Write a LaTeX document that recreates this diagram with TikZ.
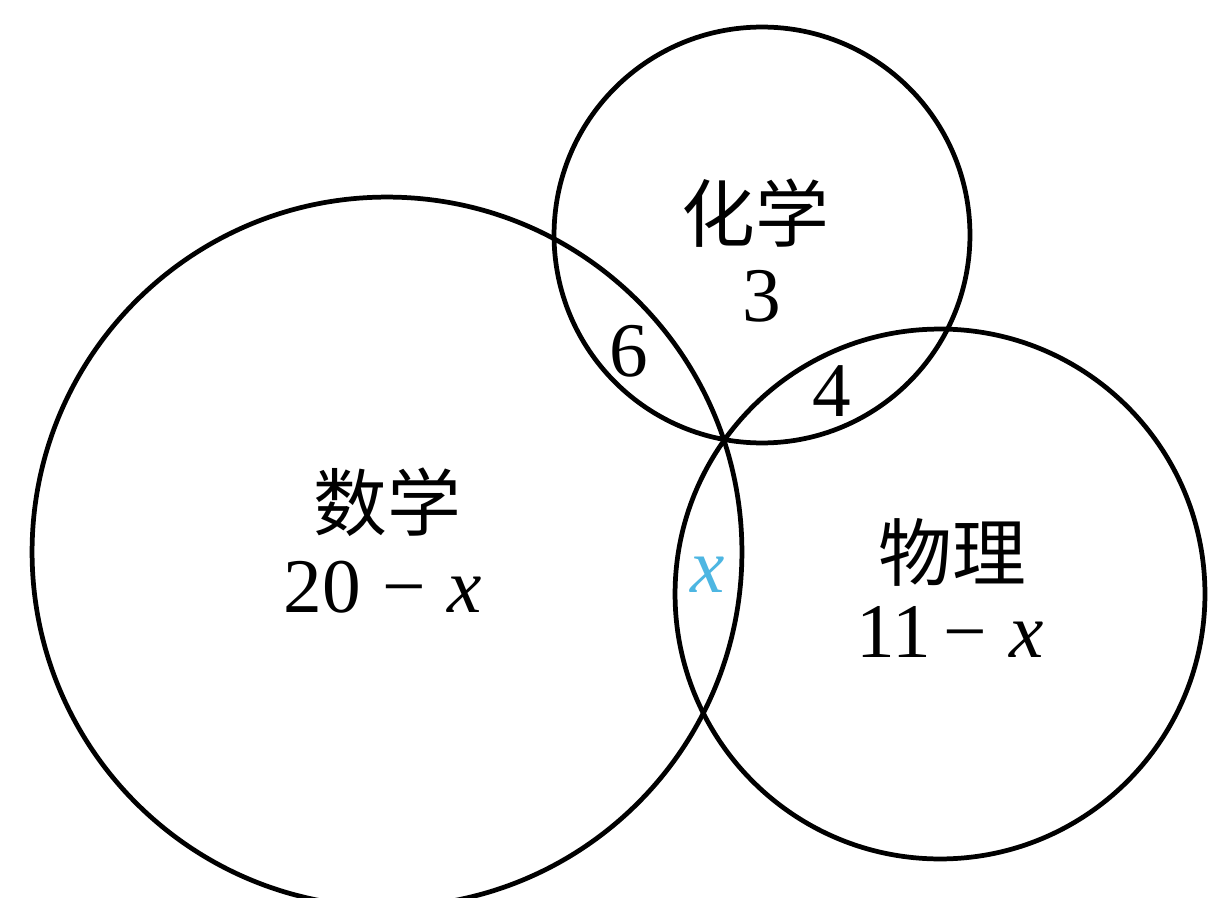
\documentclass[tikz,border=0pt]{standalone}
\usepackage{fontspec}
\setmainfont{Liberation Serif}
\newfontfamily\cjk{Noto Sans CJK SC}
\definecolor{xcyan}{HTML}{4DB6E2}
\begin{document}
\begin{tikzpicture}[x=0.02cm,y=-0.02cm,
  ring/.style={draw=black,line width=2.7pt,circle,inner sep=0pt},
  lab/.style={inner sep=0pt,font=\fontsize{42}{48}\selectfont\cjk},
  num/.style={inner sep=0pt,anchor=base,font=\fontsize{44}{48}\selectfont}]
\useasboundingbox (0,0) rectangle (1209,898);
\node[ring,minimum size=14.2cm] (math) at (387,552) {};
\node[ring,minimum size=8.32cm] (chem) at (762,235) {};
\node[ring,minimum size=10.6cm] (phys) at (940,594) {};
\node[lab] (mathlab) at (387,502) {数学};
\node[num] (mathnum) at (383,612) {20\;−\;\textit{x}};
\node[lab] (chemlab) at (755,213) {化学};
\node[num] (chemnum) at (762,321) {3};
\node[lab] (physlab) at (952,552) {物理};
\node[num] (physnum) at (950,657) {11\,−\;\textit{x}};
\node[num] (mc) at (629,376) {6};
\node[num] (cp) at (832,416) {4};
\node[num,text=xcyan] (mp) at (708,592) {\textit{x}};
\end{tikzpicture}
\end{document}
